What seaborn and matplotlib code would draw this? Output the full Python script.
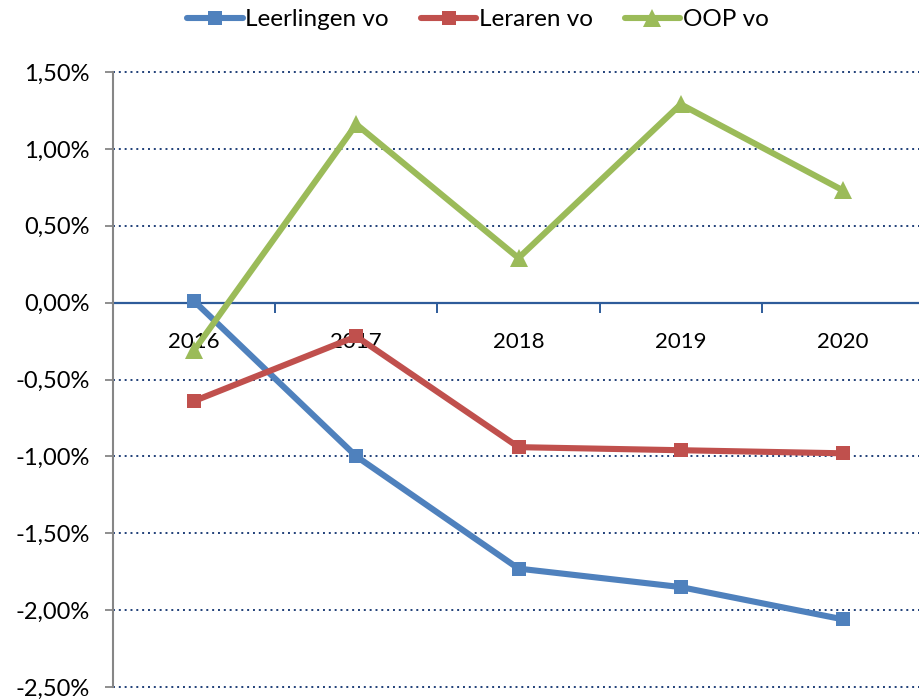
import numpy as np
import pandas as pd
import matplotlib
matplotlib.use("Agg")
import matplotlib.pyplot as plt
from matplotlib.ticker import FixedLocator, FuncFormatter
import seaborn as sns

# waarden (in %)
jaren = ["2016", "2017", "2018", "2019", "2020"]
leerlingen_vo = [0.01, -1.00, -1.73, -1.85, -2.06]
leraren_vo = [-0.64, -0.22, -0.94, -0.96, -0.98]
oop_vo = [-0.31, 1.16, 0.29, 1.29, 0.73]
reeksen = ["Leerlingen vo", "Leraren vo", "OOP vo"]

df = pd.DataFrame({
    "jaar": jaren * 3,
    "pos": list(range(len(jaren))) * 3,
    "waarde": leerlingen_vo + leraren_vo + oop_vo,
    "reeks": [r for r in reeksen for _ in jaren],
})

sns.set_style("white")
plt.rcParams["font.family"] = ["Lato", "DejaVu Sans"]
plt.rcParams["text.color"] = "black"

kleuren = {"Leerlingen vo": "#4F81BD", "Leraren vo": "#C0504D", "OOP vo": "#9BBB59"}
markers = {"Leerlingen vo": "s", "Leraren vo": "s", "OOP vo": "^"}

fig = plt.figure(figsize=(9.19, 7.0), dpi=100)
ax = fig.add_axes([113 / 919, 13 / 700, 806 / 919, 615 / 700])

sns.lineplot(data=df, x="pos", y="waarde", hue="reeks", style="reeks",
             palette=kleuren, markers=markers, dashes=False, linewidth=4.4,
             markersize=10.5, markeredgewidth=0, ax=ax, legend=True, zorder=3)
for ln in ax.lines:
    if ln.get_marker() == "^":
        ln.set_markersize(13.5)

ax.set_xlim(-0.5, 4.469)
ax.set_ylim(-2.5, 1.5)

# gridlijnen
for v in [1.5, 1.0, 0.5, -0.5, -1.0, -1.5, -2.0, -2.5]:
    ax.axhline(v, color="#1F3F78", linestyle=(0, (1, 2)), linewidth=1.4, zorder=1, clip_on=False)

for s in ["top", "right"]:
    ax.spines[s].set_visible(False)
ax.spines["left"].set_color("#868686")
ax.spines["left"].set_linewidth(1.5)
ax.spines["bottom"].set_position(("data", 0))
ax.spines["bottom"].set_color("#2E5C9A")
ax.spines["bottom"].set_linewidth(1.6)
ax.spines["bottom"].set_zorder(2)

ax.yaxis.set_major_locator(FixedLocator([-2.5, -2.0, -1.5, -1.0, -0.5, 0.0, 0.5, 1.0, 1.5]))
ax.yaxis.set_major_formatter(FuncFormatter(lambda v, p: f"{v:.2f}%".replace(".", ",")))
ax.tick_params(axis="y", direction="out", length=6, width=1.3, color="#868686",
               labelsize=17, labelcolor="black", pad=11, left=True)

ax.set_xticks(range(len(jaren)))
ax.set_xticklabels(jaren)
ax.set_xticks([-0.5, 0.5, 1.5, 2.5, 3.5], minor=True)
ax.tick_params(axis="x", which="major", length=0, labelsize=16, labelcolor="black", pad=21, bottom=True)
ax.tick_params(axis="x", which="minor", direction="out", length=7, width=1.4,
               color="#2E5C9A", bottom=True)
ax.set_xlabel("")
ax.set_ylabel("")

h, l = ax.get_legend_handles_labels()
ax.legend(h, l, loc="upper center", bbox_to_anchor=(0.52, 1.018), bbox_transform=fig.transFigure,
          ncol=3, frameon=False, fontsize=17.5, handlelength=2.3, handletextpad=0.1,
          columnspacing=1.3, labelcolor="black")

fig.savefig("out.png", dpi=100)
